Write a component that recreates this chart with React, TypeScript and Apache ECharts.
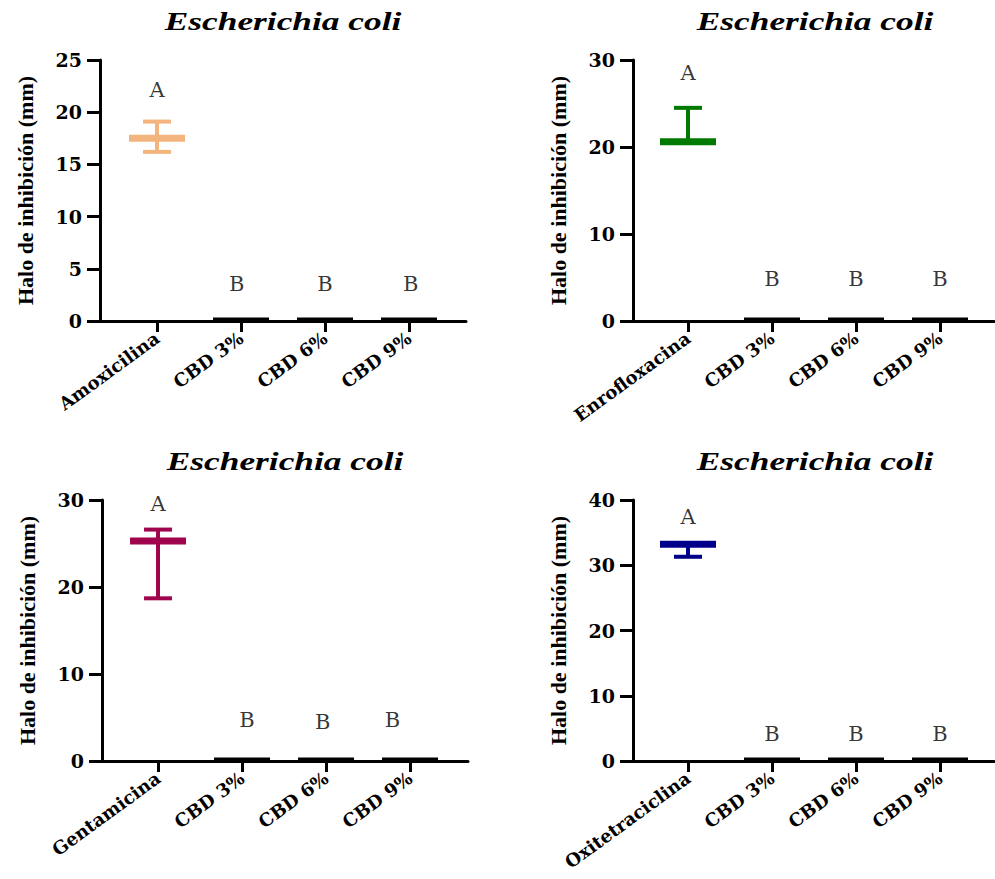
import React, { useEffect, useRef } from "react";
import * as echarts from "echarts";

const TITLE = "Escherichia coli";
const Y_NAME = "Halo de inhibición (mm)";

const cats1 = ["Amoxicilina", "CBD 3%", "CBD 6%", "CBD 9%"];
const cats2 = ["Enrofloxacina", "CBD 3%", "CBD 6%", "CBD 9%"];
const cats3 = ["Gentamicina", "CBD 3%", "CBD 6%", "CBD 9%"];
const cats4 = ["Oxitetraciclina", "CBD 3%", "CBD 6%", "CBD 9%"];

const mean1 = [17.5, 0, 0, 0];
const upper1 = [19.1, 0, 0, 0];
const lower1 = [16.2, 0, 0, 0];
const mean2 = [20.6, 0, 0, 0];
const upper2 = [24.5, 0, 0, 0];
const lower2 = [20.6, 0, 0, 0];
const mean3 = [25.3, 0, 0, 0];
const upper3 = [26.6, 0, 0, 0];
const lower3 = [18.7, 0, 0, 0];
const mean4 = [33.2, 0, 0, 0];
const upper4 = [33.2, 0, 0, 0];
const lower4 = [31.3, 0, 0, 0];

const letters = ["A", "B", "B", "B"];
const letterX1 = [0, 0.95, 2.0, 3.02];
const letterY1 = [22.1, 3.5, 3.5, 3.5];
const letterX2 = [0, 1, 2, 3];
const letterY2 = [28.5, 4.8, 4.8, 4.8];
const letterX3 = [0, 1.06, 1.96, 2.79];
const letterY3 = [29.5, 4.7, 4.5, 4.7];
const letterX4 = [0, 1, 2, 3];
const letterY4 = [37.4, 4.2, 4.2, 4.2];

const yMax = [25, 30, 30, 40];
const yStep = [5, 10, 10, 10];

const controlColors = ["#F3B47D", "#007A00", "#A0044C", "#00008B"];

const panels = [
  { cats: cats1, mean: mean1, up: upper1, lo: lower1, lx: letterX1, ly: letterY1 },
  { cats: cats2, mean: mean2, up: upper2, lo: lower2, lx: letterX2, ly: letterY2 },
  { cats: cats3, mean: mean3, up: upper3, lo: lower3, lx: letterX3, ly: letterY3 },
  { cats: cats4, mean: mean4, up: upper4, lo: lower4, lx: letterX4, ly: letterY4 },
];

const grids = [
  { left: 100, top: 60, width: 366, height: 261, outerBoundsMode: "none" },
  { left: 633, top: 60, width: 361, height: 261, outerBoundsMode: "none" },
  { left: 102, top: 500, width: 366, height: 261, outerBoundsMode: "none" },
  { left: 633, top: 500, width: 361, height: 261, outerBoundsMode: "none" },
];
const xRange = [
  [-0.679, 3.679],
  [-0.655, 3.643],
  [-0.667, 3.69],
  [-0.655, 3.643],
];
const titlePos = [
  [283, 21],
  [815, 21],
  [285, 461],
  [815, 461],
];

export default function App() {
  const ref = useRef<HTMLDivElement>(null);
  useEffect(() => {
    document.body.style.margin = "0";
    const chart = echarts.init(ref.current!, null, { renderer: "svg" });
    const xAxes: any[] = [];
    const yAxes: any[] = [];
    const series: any[] = [];
    const graphics: any[] = [];
    panels.forEach((p, k) => {
      xAxes.push({
        type: "value",
        gridIndex: k,
        min: xRange[k][0],
        max: xRange[k][1],
        splitLine: { show: false },
        axisLine: { show: true, onZero: false, lineStyle: { color: "#000", width: 3 } },
        axisTick: {
          show: true,
          customValues: [0, 1, 2, 3],
          length: 11,
          lineStyle: { color: "#000", width: 3 },
        },
        axisLabel: {
          show: true,
          customValues: [0, 1, 2, 3],
          formatter: (v: number) => p.cats[Math.round(v)] ?? "",
          rotate: 36,
          margin: 15,
          color: "#000",
          fontFamily: "DejaVu Serif",
          fontWeight: "bold",
          fontSize: 18,
        },
      });
      yAxes.push({
        type: "value",
        gridIndex: k,
        min: 0,
        max: yMax[k],
        interval: yStep[k],
        splitLine: { show: false },
        axisLine: { show: true, onZero: false, lineStyle: { color: "#000", width: 3 } },
        axisTick: { show: true, length: 13, lineStyle: { color: "#000", width: 3 } },
        axisLabel: {
          color: "#000",
          fontFamily: "DejaVu Serif",
          fontWeight: "bold",
          fontSize: 19,
          margin: 18,
        },
        name: Y_NAME,
        nameLocation: "middle",
        nameGap: 64,
        nameTextStyle: {
          color: "#000",
          fontFamily: "Liberation Serif",
          fontWeight: "bold",
          fontSize: 22,
        },
      });
      const data = p.mean.map((m, i) => [i, m, p.up[i], p.lo[i]]);
      series.push({
        type: "custom",
        xAxisIndex: k,
        yAxisIndex: k,
        data,
        z: 5,
        renderItem: (params: any, api: any) => {
          const x = api.value(0);
          const m = api.value(1);
          const hi = api.value(2);
          const lo = api.value(3);
          const color = params.dataIndex === 0 ? controlColors[k] : "#000";
          const pm = api.coord([x, m]);
          const ph = api.coord([x, hi]);
          const pl = api.coord([x, lo]);
          const children: any[] = [];
          const lw = 4;
          if (hi > m) {
            children.push({ type: "line", shape: { x1: pm[0], y1: pm[1], x2: ph[0], y2: ph[1] }, style: { stroke: color, lineWidth: lw } });
            children.push({ type: "line", shape: { x1: ph[0] - 14, y1: ph[1], x2: ph[0] + 14, y2: ph[1] }, style: { stroke: color, lineWidth: lw } });
          }
          if (lo < m) {
            children.push({ type: "line", shape: { x1: pm[0], y1: pm[1], x2: pl[0], y2: pl[1] }, style: { stroke: color, lineWidth: lw } });
            children.push({ type: "line", shape: { x1: pl[0] - 14, y1: pl[1], x2: pl[0] + 14, y2: pl[1] }, style: { stroke: color, lineWidth: lw } });
          }
          children.push({
            type: "line",
            shape: { x1: pm[0] - 28, y1: pm[1] - (m === 0 ? 1.5 : 0), x2: pm[0] + 28, y2: pm[1] - (m === 0 ? 1.5 : 0) },
            style: { stroke: color, lineWidth: m === 0 ? 4 : 7 },
          });
          return { type: "group", children };
        },
      });
      series.push({
        type: "scatter",
        xAxisIndex: k,
        yAxisIndex: k,
        symbolSize: 1,
        itemStyle: { color: "rgba(0,0,0,0)" },
        data: letters.map((t, i) => ({ value: [p.lx[i], p.ly[i]], name: t })),
        label: {
          show: true,
          position: "inside",
          formatter: (prm: any) => prm.name,
          color: "#000",
          fontFamily: "DejaVu Serif",
          fontSize: 21,
        },
        z: 6,
      });
      graphics.push({
        type: "text",
        x: titlePos[k][0],
        y: titlePos[k][1],
        scaleX: 1.36,
        style: {
          text: TITLE,
          textAlign: "center",
          textVerticalAlign: "middle",
          fill: "#000",
          font: "italic bold 26px 'Liberation Serif'",
        },
      });
    });
    chart.setOption({
      animation: false,
      backgroundColor: "#fff",
      grid: grids,
      xAxis: xAxes,
      yAxis: yAxes,
      series,
      graphic: graphics,
    });
    return () => chart.dispose();
  }, []);
  return <div ref={ref} style={{ width: 995, height: 879 }} />;
}
